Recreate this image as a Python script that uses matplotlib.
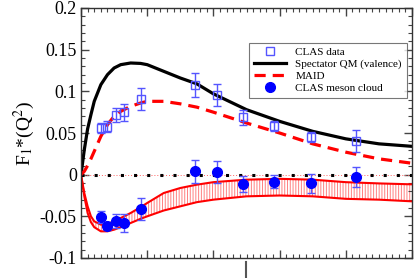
import matplotlib
matplotlib.use("Agg")
import matplotlib.pyplot as plt
from matplotlib.lines import Line2D
from matplotlib.ticker import MultipleLocator

# --- data ---
q2_data = [0.30, 0.40, 0.525, 0.65, 0.90, 1.72, 2.05, 2.44, 2.91, 3.48, 4.16]
clas_f1 = [0.0557, 0.0576, 0.0717, 0.0749, 0.0909, 0.1077, 0.0957, 0.0689, 0.0585, 0.0449, 0.0408]
clas_err = [0.006, 0.0064, 0.0088, 0.010, 0.013, 0.014, 0.0134, 0.0088, 0.006, 0.006, 0.013]
cloud_f1 = [-0.0508, -0.0616, -0.0556, -0.0576, -0.0412, 0.0044, 0.0036, -0.0112, -0.0084, -0.0104, -0.0024]
cloud_err = [0.0068, 0.005, 0.0086, 0.0108, 0.0134, 0.0138, 0.0134, 0.010, 0.008, 0.011, 0.012]

q2_curve = [0.0, 0.05, 0.1, 0.15, 0.2, 0.3, 0.4, 0.5, 0.6, 0.75, 0.9, 1.0, 1.25, 1.5,
            1.75, 2.0, 2.5, 3.0, 3.5, 4.0, 4.5, 5.0]
spectator = [0.0, 0.030, 0.055, 0.072, 0.088, 0.108, 0.120, 0.128, 0.132, 0.134, 0.1335, 0.132,
             0.124, 0.116, 0.109, 0.097, 0.078, 0.064, 0.052, 0.043, 0.037, 0.034]
maid = [0.0, 0.004, 0.011, 0.019, 0.028, 0.046, 0.060, 0.070, 0.076, 0.082, 0.086, 0.088,
        0.088, 0.085, 0.081, 0.075, 0.062, 0.050, 0.037, 0.027, 0.019, 0.0137]
band_hi = [0.0, -0.022, -0.038, -0.050, -0.056, -0.060, -0.059, -0.056, -0.052, -0.046, -0.039,
           -0.034, -0.022, -0.016, -0.012, -0.009, -0.006, -0.005, -0.006, -0.009, -0.0105, -0.0116]
band_lo = [0.0, -0.026, -0.046, -0.057, -0.063, -0.068, -0.068, -0.066, -0.063, -0.058, -0.053,
           -0.050, -0.043, -0.038, -0.033, -0.030, -0.026, -0.025, -0.026, -0.029, -0.030, -0.032]

ytick_vals = [-0.1, -0.05, 0, 0.05, 0.1, 0.15, 0.2]
ytick_labels = ['-0.1', '-0.05', '0', '0.05', '0.1', '0.15', '0.2']

plt.rcParams['font.family'] = ['Liberation Serif', 'DejaVu Serif']
plt.rcParams['mathtext.fontset'] = 'stix'
plt.rcParams['hatch.linewidth'] = 0.7

fig = plt.figure(figsize=(4.15, 2.78), dpi=100)
ax = fig.add_axes([81 / 415, 20 / 278, 331 / 415, 250 / 278])

# meson cloud band
ax.fill_between(q2_curve, band_lo, band_hi, facecolor='none', edgecolor='#ff8080',
                hatch='||||||', linewidth=0)
ax.plot(q2_curve, band_hi, color='red', lw=1.5)
ax.plot(q2_curve, band_lo, color='red', lw=1.5)

# zero line
ax.axhline(0, color='#ff6060', lw=0.7, ls=(0, (1, 2)))
ax.axhline(0, color='black', lw=2.2, ls=(0, (1, 3.3)))

ax.plot(q2_curve, spectator, color='black', lw=2.3)
ax.plot(q2_curve, maid, color='red', lw=2.3, ls=(0, (3.5, 2.2)))

ax.errorbar(q2_data, clas_f1, yerr=clas_err, fmt='s', ms=6, mfc='none', mec='#5555ff',
            mew=1.0, ecolor='#5555ff', elinewidth=1.0, capsize=3, capthick=1.0)
ax.errorbar(q2_data, cloud_f1, yerr=cloud_err, fmt='o', ms=7, mfc='#0000ff', mec='#0000ff',
            ecolor='#5555ff', elinewidth=1.0, capsize=3, capthick=1.0)

ax.set_xlim(0, 5)
ax.set_ylim(-0.1, 0.2)
ax.xaxis.set_major_locator(MultipleLocator(1))
ax.xaxis.set_minor_locator(MultipleLocator(0.1))
ax.set_xticklabels([])
ax.set_yticks(ytick_vals)
ax.set_yticklabels(ytick_labels)
ax.yaxis.set_minor_locator(MultipleLocator(0.01))
ax.tick_params(which='both', direction='in', top=True, right=True, color='#444444')
ax.tick_params(which='major', length=6, width=1.0, labelsize=13, pad=3)
ax.tick_params(which='minor', length=3, width=0.8)
for s in ax.spines.values():
    s.set_linewidth(1.0)
    s.set_color('#333333')

ax.set_ylabel(r'F$_1$*(Q$^2$)', fontsize=14, labelpad=2)

# legend handles without error bars
handles = [
    Line2D([], [], ls='none', marker='s', ms=5.5, mfc='none', mec='#5555ff', mew=1.0),
    Line2D([], [], color='black', lw=2.3),
    Line2D([], [], color='red', lw=2.3, ls=(0, (3.5, 2.2))),
    Line2D([], [], ls='none', marker='o', ms=7, mfc='#0000ff', mec='#0000ff'),
]
labels = ['CLAS data', 'Spectator QM (valence)', 'MAID', 'CLAS meson cloud']
leg = ax.legend(handles, labels, loc='upper left', bbox_to_anchor=(0.508, 0.862),
                fontsize=8, frameon=True, fancybox=False, edgecolor='#555555',
                handlelength=2.9, handletextpad=0.8, borderpad=0.45, labelspacing=0.18,
                borderaxespad=0)
leg.get_frame().set_linewidth(0.8)

# stray tick mark below the axis
fig.add_artist(Line2D([245.8 / 415, 245.8 / 415], [0, 16 / 278], color='#555555', lw=1.5))

fig.savefig('out.png', dpi=100)
